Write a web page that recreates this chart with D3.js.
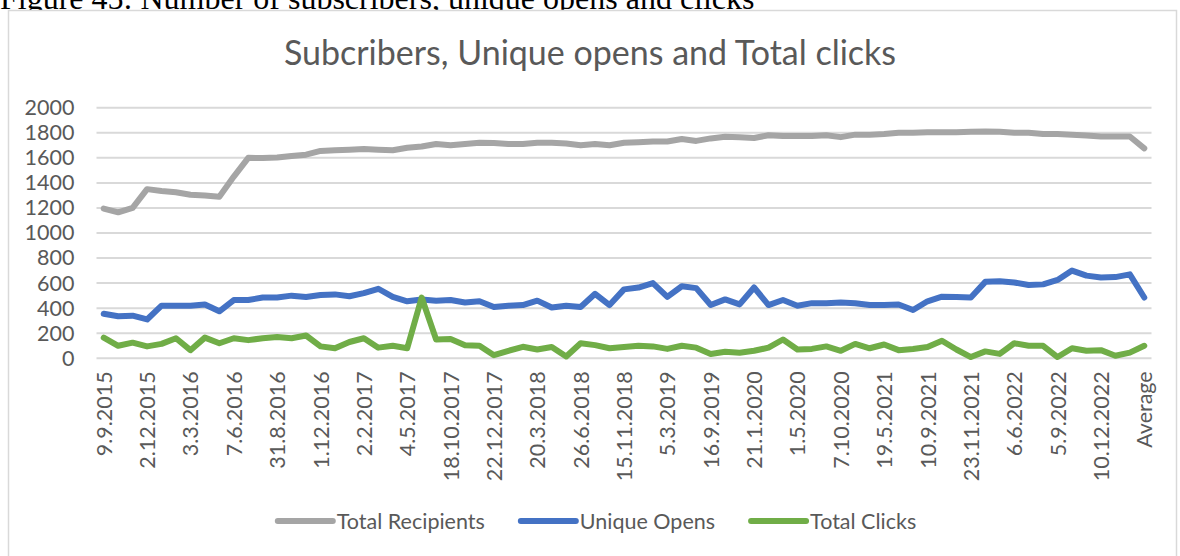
<!DOCTYPE html>
<html>
<head>
<meta charset="utf-8">
<script src="https://cdn.jsdelivr.net/npm/d3@7"></script>
<style>
  html, body { margin: 0; padding: 0; background: #fff; }
  svg { display: block; }
</style>
</head>
<body>
<svg id="chart" width="1180" height="556"></svg>
<script>
// Newsletter statistics per send date (73 sends, last entry is the average)
const xTickLabels = ["9.9.2015", "2.12.2015", "3.3.2016", "7.6.2016", "31.8.2016", "1.12.2016",
  "2.2.2017", "4.5.2017", "18.10.2017", "22.12.2017", "20.3.2018", "26.6.2018", "15.11.2018",
  "5.3.2019", "16.9.2019", "21.1.2020", "1.5.2020", "7.10.2020", "19.5.2021", "10.9.2021",
  "23.11.2021", "6.6.2022", "5.9.2022", "10.12.2022", "Average"];
const labelEvery = 3;

const totalRecipients = [
  1195, 1165, 1200, 1350, 1335, 1325, 1305, 1300, 1290, 1450,
  1600, 1598, 1602, 1615, 1625, 1655, 1660, 1665, 1670, 1665,
  1660, 1680, 1690, 1710, 1700, 1710, 1720, 1718, 1710, 1710,
  1720, 1720, 1715, 1700, 1710, 1700, 1720, 1725, 1730, 1730,
  1750, 1735, 1755, 1768, 1765, 1758, 1780, 1775, 1775, 1775,
  1780, 1765, 1785, 1785, 1790, 1800, 1800, 1805, 1805, 1805,
  1808, 1810, 1808, 1800, 1800, 1790, 1790, 1785, 1778, 1770,
  1770, 1770, 1675];

const uniqueOpens = [
  355, 335, 340, 310, 420, 420, 420, 430, 375, 465,
  465, 485, 485, 500, 490, 505, 510, 495, 520, 555,
  490, 455, 470, 460, 465, 445, 455, 410, 420, 425,
  460, 405, 420, 410, 515, 425, 550, 565, 600, 490,
  575, 560, 425, 470, 430, 565, 425, 465, 420, 440,
  440, 445, 440, 425, 425, 430, 385, 455, 492, 490,
  485, 610, 615, 605, 585, 590, 625, 700, 660, 645,
  648, 670, 485];

const totalClicks = [
  165, 100, 125, 95, 115, 160, 65, 165, 120, 160,
  145, 160, 170, 160, 182, 95, 80, 130, 160, 85,
  100, 80, 485, 150, 155, 105, 100, 25, 60, 92,
  70, 90, 15, 120, 105, 80, 90, 100, 95, 75,
  100, 85, 35, 52, 45, 60, 85, 150, 70, 75,
  95, 60, 115, 80, 110, 65, 75, 90, 140, 70,
  10, 55, 35, 120, 100, 100, 10, 80, 60, 65,
  20, 45, 100];

const yTicks = [0, 200, 400, 600, 800, 1000, 1200, 1400, 1600, 1800, 2000];

const seriesNames = ["Total Recipients", "Unique Opens", "Total Clicks"];
const seriesColors = ["#a5a5a5", "#4472c4", "#70ad47"];
const seriesValues = [totalRecipients, uniqueOpens, totalClicks];

const textColor = "#595959";
const gridColor = "#d9d9d9";
const labelFont = "Lato, 'Open Sans', sans-serif";

const svg = d3.select("#chart");

// Caption above the chart object
svg.append("text")
  .attr("x", 0).attr("y", 9)
  .attr("font-family", "'Liberation Serif', 'Times New Roman', serif")
  .attr("font-size", 32)
  .attr("fill", "#000")
  .text("Figure 45: Number of subscribers, unique opens and clicks");

// Chart frame
svg.append("rect")
  .attr("x", 8.5).attr("y", 10.5)
  .attr("width", 1168).attr("height", 560)
  .attr("fill", "#fff")
  .attr("stroke", gridColor)
  .attr("stroke-width", 1.5);

// Title
svg.append("text")
  .attr("x", 590).attr("y", 65)
  .attr("text-anchor", "middle")
  .attr("font-family", labelFont)
  .attr("font-size", 34)
  .attr("fill", textColor)
  .text("Subcribers, Unique opens and Total clicks");

const plot = { left: 96.5, right: 1151.5, top: 107.7, bottom: 358.3 };

const n = totalRecipients.length;
const x = d3.scalePoint()
  .domain(d3.range(n))
  .range([plot.left, plot.right])
  .padding(0.5);

const y = d3.scaleLinear()
  .domain([0, 2000])
  .range([plot.bottom, plot.top]);

// Horizontal gridlines
svg.append("g")
  .selectAll("line")
  .data(yTicks)
  .join("line")
  .attr("x1", plot.left).attr("x2", plot.right)
  .attr("y1", d => y(d)).attr("y2", d => y(d))
  .attr("stroke", gridColor)
  .attr("stroke-width", 2);

// Y axis labels
const yAxis = svg.append("g")
  .attr("transform", `translate(${plot.left - 22},0)`)
  .call(d3.axisLeft(y).tickValues(yTicks).tickFormat(d3.format("d"))
    .tickSize(0).tickPadding(0));
yAxis.select(".domain").remove();
yAxis.selectAll("text")
  .attr("font-family", labelFont)
  .attr("font-size", 21.5)
  .attr("fill", textColor);

// X axis labels, every third send date, rotated
const tickIdx = xTickLabels.map((_, i) => i * labelEvery);
const xAxis = svg.append("g")
  .attr("transform", `translate(0,${plot.bottom})`)
  .call(d3.axisBottom(x).tickValues(tickIdx)
    .tickFormat(d => xTickLabels[d / labelEvery])
    .tickSize(0).tickPadding(0));
xAxis.select(".domain").remove();
xAxis.selectAll("text")
  .attr("font-family", labelFont)
  .attr("font-size", 21.5)
  .attr("fill", textColor)
  .attr("text-anchor", "end")
  .attr("transform", "rotate(-90)")
  .attr("x", -13)
  .attr("y", 0)
  .attr("dy", "0.35em");

// Series lines
const line = d3.line()
  .x((d, i) => x(i))
  .y(d => y(d));

svg.append("g")
  .selectAll("path")
  .data(seriesValues)
  .join("path")
  .attr("d", d => line(d))
  .attr("fill", "none")
  .attr("stroke", (d, i) => seriesColors[i])
  .attr("stroke-width", 6)
  .attr("stroke-linejoin", "round")
  .attr("stroke-linecap", "round");

// Legend
const legendY = 521;
const legend = svg.append("g");
const items = legend.selectAll("g")
  .data(seriesNames)
  .join("g");
items.append("line")
  .attr("x1", 0).attr("x2", 55)
  .attr("y1", legendY).attr("y2", legendY)
  .attr("stroke", (d, i) => seriesColors[i])
  .attr("stroke-width", 6)
  .attr("stroke-linecap", "round");
items.append("text")
  .attr("x", 59).attr("y", legendY)
  .attr("dy", "0.35em")
  .attr("font-family", labelFont)
  .attr("font-size", 21.5)
  .attr("fill", textColor)
  .text(d => d);

const gap = 36;
const widths = [];
items.each(function() {
  widths.push(59 + d3.select(this).select("text").node().getComputedTextLength());
});
const total = d3.sum(widths) + gap * (widths.length - 1);
let cx = 597 - total / 2;
items.each(function(d, i) {
  d3.select(this).attr("transform", `translate(${cx},0)`);
  cx += widths[i] + gap;
});
</script>
</body>
</html>
